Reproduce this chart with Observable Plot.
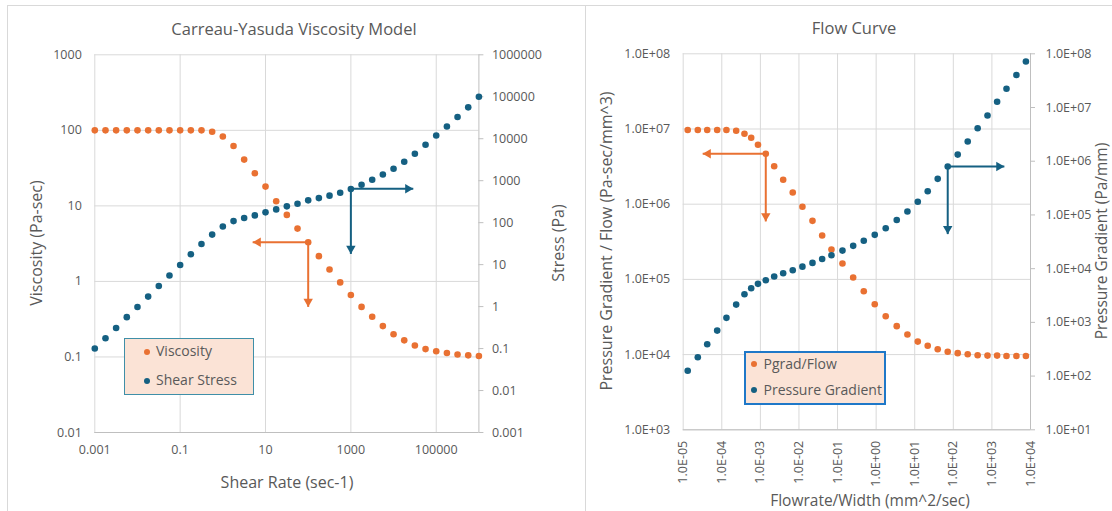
<!DOCTYPE html>
<html>
<head>
<meta charset="utf-8">
<script src="https://cdn.jsdelivr.net/npm/d3@7"></script>
<script src="https://cdn.jsdelivr.net/npm/@observablehq/plot@0.6"></script>
<style>
  html, body { margin: 0; padding: 0; background: #ffffff; }
  #wrap { position: relative; width: 1112px; height: 511px; overflow: hidden; font-family: 'Open Sans', 'Liberation Sans', sans-serif; color: #595959; }
  .panelBorder { position: absolute; border: 1px solid #d9d9d9; box-sizing: border-box; }
  .plot { position: absolute; top: 0; }
  .title { position: absolute; transform: translate(-50%, -50%); font-size: 16.5px; white-space: nowrap; }
  .alabel { position: absolute; font-size: 16px; line-height: 18px; white-space: nowrap; transform: translate(-50%, -50%); }
  .rot { transform: translate(-50%, -50%) rotate(-90deg); }
  .legend { position: absolute; background: #fbe3d6; box-sizing: border-box; }
  .item { position: absolute; height: 20px; line-height: 20px; font-size: 14px; white-space: nowrap; }
  .ldot { position: absolute; width: 6px; height: 6px; border-radius: 50%; }
</style>
</head>
<body>
<div id="wrap"></div>
<script>
// ---------------- Left chart data (Carreau-Yasuda Viscosity Model) ----------------
const shearRate = [0.001, 0.00178, 0.00316, 0.00562, 0.01, 0.0178, 0.0316, 0.0562, 0.1, 0.178, 0.316, 0.562,
  1, 1.78, 3.16, 5.62, 10, 17.8, 31.6, 56.2, 100, 178, 316, 562, 1000, 1780, 3160, 5620,
  10000, 17800, 31600, 56200, 100000, 178000, 316000, 562000, 1000000];
const viscosity = [100, 100, 100, 100, 100, 100, 100, 100, 100, 100, 100, 96,
  83, 62, 41, 27, 18, 11.5, 7.6, 5.0, 3.3, 2.16, 1.44, 0.97, 0.66, 0.46, 0.34, 0.256,
  0.20, 0.166, 0.142, 0.127, 0.119, 0.113, 0.108, 0.105, 0.103];
const shearStress = [0.1, 0.176, 0.31, 0.56, 0.98, 1.73, 3.1, 5.5, 9.8, 17.7, 31, 52,
  81, 109, 129, 149, 176, 207, 245, 283, 340, 385, 440, 518, 630, 800, 1050, 1410,
  1930, 2830, 4370, 7200, 11900, 19500, 33000, 56000, 100000];
const rateTicks = [0.001, 0.1, 10, 1000, 100000];
const rateTickLabels = ["0.001", "0.1", "10", "1000", "100000"];
const viscTicks = [0.01, 0.1, 1, 10, 100, 1000];
const viscTickLabels = ["0.01", "0.1", "1", "10", "100", "1000"];
const stressTicks = [0.001, 0.01, 0.1, 1, 10, 100, 1000, 10000, 100000, 1000000];
const stressTickLabels = ["0.001", "0.01", "0.1", "1", "10", "100", "1000", "10000", "100000", "1000000"];
// annotation arrows (data units; "right" = secondary axis)
const leftArrows = [
  {series: "Viscosity", axis: "left", x1: 100, y1: 3.3, x2: 5, y2: 3.3, dir: "left"},
  {series: "Viscosity", axis: "left", x1: 100, y1: 3.3, x2: 100, y2: 0.46, dir: "down"},
  {series: "Shear Stress", axis: "right", x1: 1000, y1: 645, x2: 29000, y2: 645, dir: "right"},
  {series: "Shear Stress", axis: "right", x1: 1000, y1: 645, x2: 1000, y2: 18, dir: "down"}
];

// ---------------- Right chart data (Flow Curve) ----------------
const flowrate = [1.31e-5, 2.39e-5, 4.19e-5, 7.6e-5, 1.32e-4, 2.36e-4, 3.87e-4, 5.78e-4, 8.67e-4, 1.38e-3,
  2.28e-3, 3.9e-3, 6.9e-3, 0.0123, 0.0224, 0.0399, 0.0695, 0.134, 0.254, 0.478, 0.92, 1.77,
  3.42, 6.47, 12.0, 21.7, 39.4, 71.6, 130, 236, 427, 769, 1365, 2388, 4315, 7600];
const pgradFlow = [9.7e6, 9.7e6, 9.7e6, 9.7e6, 9.7e6, 9.5e6, 8.63e6, 7.64e6, 6.17e6, 4.68e6,
  3.2e6, 2.11e6, 1.43e6, 9.23e5, 6.01e5, 3.84e5, 2.5e5, 1.63e5, 1.06e5, 6.97e4, 4.68e4, 3.24e4,
  2.39e4, 1.85e4, 1.49e4, 1.31e4, 1.18e4, 1.09e4, 1.045e4, 1.01e4, 9.8e3, 9.7e3, 9.7e3, 9.6e3, 9.6e3, 9.6e3];
const pressureGradient = [126, 224, 391, 703, 1213, 2144, 3334, 4315, 5212, 6081,
  7129, 8204, 9333, 1.09e4, 1.28e4, 1.51e4, 1.78e4, 2.17e4, 2.66e4, 3.3e4, 4.26e4, 5.65e4,
  8.03e4, 1.16e5, 1.76e5, 2.76e5, 4.7e5, 7.96e5, 1.33e6, 2.33e6, 4.12e6, 7.1e6, 1.28e7, 2.23e7, 4.03e7, 7.19e7];
const flowTicks = [1e-5, 1e-4, 1e-3, 1e-2, 1e-1, 1, 10, 100, 1000, 10000];
const flowTickLabels = ["1.0E-05", "1.0E-04", "1.0E-03", "1.0E-02", "1.0E-01", "1.0E+00", "1.0E+01", "1.0E+02", "1.0E+03", "1.0E+04"];
const pgfTicks = [1e3, 1e4, 1e5, 1e6, 1e7, 1e8];
const pgfTickLabels = ["1.0E+03", "1.0E+04", "1.0E+05", "1.0E+06", "1.0E+07", "1.0E+08"];
const pgTicks = [1e1, 1e2, 1e3, 1e4, 1e5, 1e6, 1e7, 1e8];
const pgTickLabels = ["1.0E+01", "1.0E+02", "1.0E+03", "1.0E+04", "1.0E+05", "1.0E+06", "1.0E+07", "1.0E+08"];
const rightArrows = [
  {series: "Pgrad/Flow", axis: "left", x1: 1.38e-3, y1: 4.68e6, x2: 3.2e-5, y2: 4.68e6, dir: "left"},
  {series: "Pgrad/Flow", axis: "left", x1: 1.38e-3, y1: 4.68e6, x2: 1.38e-3, y2: 5.9e5, dir: "down"},
  {series: "Pressure Gradient", axis: "right", x1: 71.6, y1: 7.96e5, x2: 2100, y2: 7.96e5, dir: "right"},
  {series: "Pressure Gradient", axis: "right", x1: 71.6, y1: 7.96e5, x2: 71.6, y2: 4.4e4, dir: "down"}
];

// ---------------- styling ----------------
const FONT = "'Open Sans', 'Liberation Sans', sans-serif";
const gridColor = "#d9d9d9";
const axisColor = "#bfbfbf";
const textColor = "#595959";
const orange = "#E97132";
const blue = "#156082";

// secondary-axis mappings onto the primary log scale
const L_sec = v => Math.pow(10, -2 + (Math.log10(v) + 3) * 5 / 9);   // [1e-3,1e6] -> [1e-2,1e3]
const R_sec = v => Math.pow(10, 3 + (Math.log10(v) - 1) * 5 / 7);    // [1e1,1e8]  -> [1e3,1e8]

// secondary axis: tick marks + labels at the right edge of the frame
function secondaryAxis(ticks, labels, secMap, pad) {
  const rows = ticks.map((t, i) => ({pos: secMap(t), label: labels[i]}));
  return [
    Plot.tickY(rows, {y: "pos", stroke: axisColor, strokeWidth: 1, render: (index, scales, values, dims, context, next) => {
      const g = next(index, scales, values, dims, context);
      const xr = dims.width - dims.marginRight;
      g.querySelectorAll("line").forEach(l => { l.setAttribute("x1", xr); l.setAttribute("x2", xr + 5); });
      return g;
    }}),
    Plot.text(rows, {y: "pos", text: "label", frameAnchor: "right", textAnchor: "start", dx: pad, fill: textColor})
  ];
}

function arrowMarks(arrows, secMap, colorOf) {
  const A = arrows.map(a => ({
    ...a,
    py1: a.axis === "right" ? secMap(a.y1) : a.y1,
    py2: a.axis === "right" ? secMap(a.y2) : a.y2
  }));
  const head = 5.4;
  const heads = (dir, rot, dx, dy) => Plot.dot(A.filter(a => a.dir === dir), {
    x: "x2", y: "py2", symbol: "triangle", r: 3.5, rotate: rot,
    fill: d => colorOf(d.series), stroke: "none", dx, dy
  });
  return [
    Plot.link(A, {x1: "x1", y1: "py1", x2: "x2", y2: "py2", stroke: d => colorOf(d.series), strokeWidth: 2}),
    heads("left", -90, head, 0),
    heads("right", 90, -head, 0),
    heads("down", 180, 0, -head)
  ];
}

const wrap = document.getElementById("wrap");

// ---------------- Left chart ----------------
const leftData = shearRate.map((x, i) => ({x, visc: viscosity[i], stress: shearStress[i]}));
const leftColor = s => s === "Viscosity" ? orange : blue;

const leftPlot = Plot.plot({
  width: 585, height: 511,
  marginLeft: 94.3, marginRight: 106.6, marginTop: 54.3, marginBottom: 79,
  style: {fontFamily: FONT, fontSize: "12.5px", color: textColor, background: "transparent", overflow: "visible"},
  x: {type: "log", domain: [1e-3, 1e6], axis: null},
  y: {type: "log", domain: [0.01, 1000], axis: null},
  marks: [
    Plot.gridX(rateTicks, {stroke: gridColor, strokeOpacity: 1}),
    Plot.gridY(viscTicks, {stroke: gridColor, strokeOpacity: 1}),
    Plot.ruleY([0.01], {stroke: axisColor}),
    Plot.ruleX([1e6], {stroke: axisColor}),
    Plot.text(viscTicks, {y: d => d, text: (d, i) => viscTickLabels[i], frameAnchor: "left", textAnchor: "end", dx: -13, fill: textColor}),
    ...secondaryAxis(stressTicks, stressTickLabels, L_sec, 13),
    Plot.text(rateTicks, {x: d => d, text: (d, i) => rateTickLabels[i], frameAnchor: "bottom", lineAnchor: "top", dy: 13, fill: textColor}),
    Plot.dot(leftData, {x: "x", y: "visc", r: 3.3, fill: orange}),
    Plot.dot(leftData, {x: "x", y: d => L_sec(d.stress), r: 3.3, fill: blue}),
    ...arrowMarks(leftArrows, L_sec, leftColor)
  ]
});
leftPlot.classList.add("plot");
leftPlot.style.left = "0px";

// ---------------- Right chart ----------------
const rightData = flowrate.map((x, i) => ({x, pgf: pgradFlow[i], pg: pressureGradient[i]}));
const rightColor = s => s === "Pgrad/Flow" ? orange : blue;

const rightPlot = Plot.plot({
  width: 527, height: 511,
  marginLeft: 97.7, marginRight: 82, marginTop: 53.3, marginBottom: 81.7,
  style: {fontFamily: FONT, fontSize: "12.5px", color: textColor, background: "transparent", overflow: "visible"},
  x: {type: "log", domain: [1e-5, 1e4], axis: null},
  y: {type: "log", domain: [1e3, 1e8], axis: null},
  marks: [
    Plot.gridX(flowTicks, {stroke: gridColor, strokeOpacity: 1}),
    Plot.gridY(pgfTicks, {stroke: gridColor, strokeOpacity: 1}),
    Plot.ruleY([1e3], {stroke: axisColor}),
    Plot.ruleX([1e4], {stroke: axisColor}),
    Plot.text(pgfTicks, {y: d => d, text: (d, i) => pgfTickLabels[i], frameAnchor: "left", textAnchor: "end", dx: -13, fill: textColor}),
    ...secondaryAxis(pgTicks, pgTickLabels, R_sec, 15),
    Plot.text(flowTicks, {x: d => d, text: (d, i) => flowTickLabels[i], frameAnchor: "bottom",
      rotate: -90, textAnchor: "end", lineAnchor: "middle", dy: 11, fill: textColor, fontSize: 12.5}),
    Plot.dot(rightData, {x: "x", y: "pgf", r: 3.3, fill: orange}),
    Plot.dot(rightData, {x: "x", y: d => R_sec(d.pg), r: 3.3, fill: blue}),
    ...arrowMarks(rightArrows, R_sec, rightColor)
  ]
});
rightPlot.classList.add("plot");
rightPlot.style.left = "585px";

// ---------------- frames, titles, labels, legends ----------------
function el(tag, cls, styles, text) {
  const e = document.createElement(tag);
  if (cls) e.className = cls;
  Object.assign(e.style, styles || {});
  if (text != null) e.textContent = text;
  wrap.appendChild(e);
  return e;
}
el("div", "panelBorder", {left: "7px", top: "5px", width: "579px", height: "520px"});
el("div", "panelBorder", {left: "585px", top: "5px", width: "540px", height: "520px"});
wrap.appendChild(leftPlot);
wrap.appendChild(rightPlot);

el("div", "title", {left: "294px", top: "28px"}, "Carreau-Yasuda Viscosity Model");
el("div", "title", {left: "854px", top: "27px"}, "Flow Curve");

el("div", "alabel", {left: "287px", top: "482px"}, "Shear Rate (sec-1)");
el("div", "alabel rot", {left: "35.5px", top: "243px"}, "Viscosity (Pa-sec)");
el("div", "alabel rot", {left: "558px", top: "243px"}, "Stress (Pa)");
el("div", "alabel", {left: "870px", top: "500px", fontSize: "15.5px"}, "Flowrate/Width (mm^2/sec)");
el("div", "alabel rot", {left: "605.5px", top: "241px"}, "Pressure Gradient / Flow (Pa-sec/mm^3)");
el("div", "alabel rot", {left: "1101px", top: "241px", fontSize: "15.5px"}, "Pressure Gradient (Pa/mm)");

function legend(box, border, items) {
  const lg = el("div", "legend", {left: box[0] + "px", top: box[1] + "px", width: box[2] + "px", height: box[3] + "px", border});
  items.forEach(it => {
    const d = document.createElement("div");
    d.className = "ldot";
    Object.assign(d.style, {left: (it.mx - 3) + "px", top: (it.my - 3) + "px", background: it.color});
    lg.appendChild(d);
    const t = document.createElement("div");
    t.className = "item";
    Object.assign(t.style, {left: it.tx + "px", top: (it.my - 10.5) + "px"});
    t.textContent = it.label;
    lg.appendChild(t);
  });
}
legend([124, 338, 130, 57], "1.5px solid #3f8fa8", [
  {label: "Viscosity", color: orange, mx: 22, my: 12.5, tx: 31},
  {label: "Shear Stress", color: blue, mx: 22, my: 41.5, tx: 31}
]);
legend([743.5, 351, 142, 53.5], "2px solid #1f78c8", [
  {label: "Pgrad/Flow", color: orange, mx: 8.5, my: 11, tx: 18},
  {label: "Pressure Gradient", color: blue, mx: 8.5, my: 37, tx: 18}
]);
</script>
</body>
</html>
